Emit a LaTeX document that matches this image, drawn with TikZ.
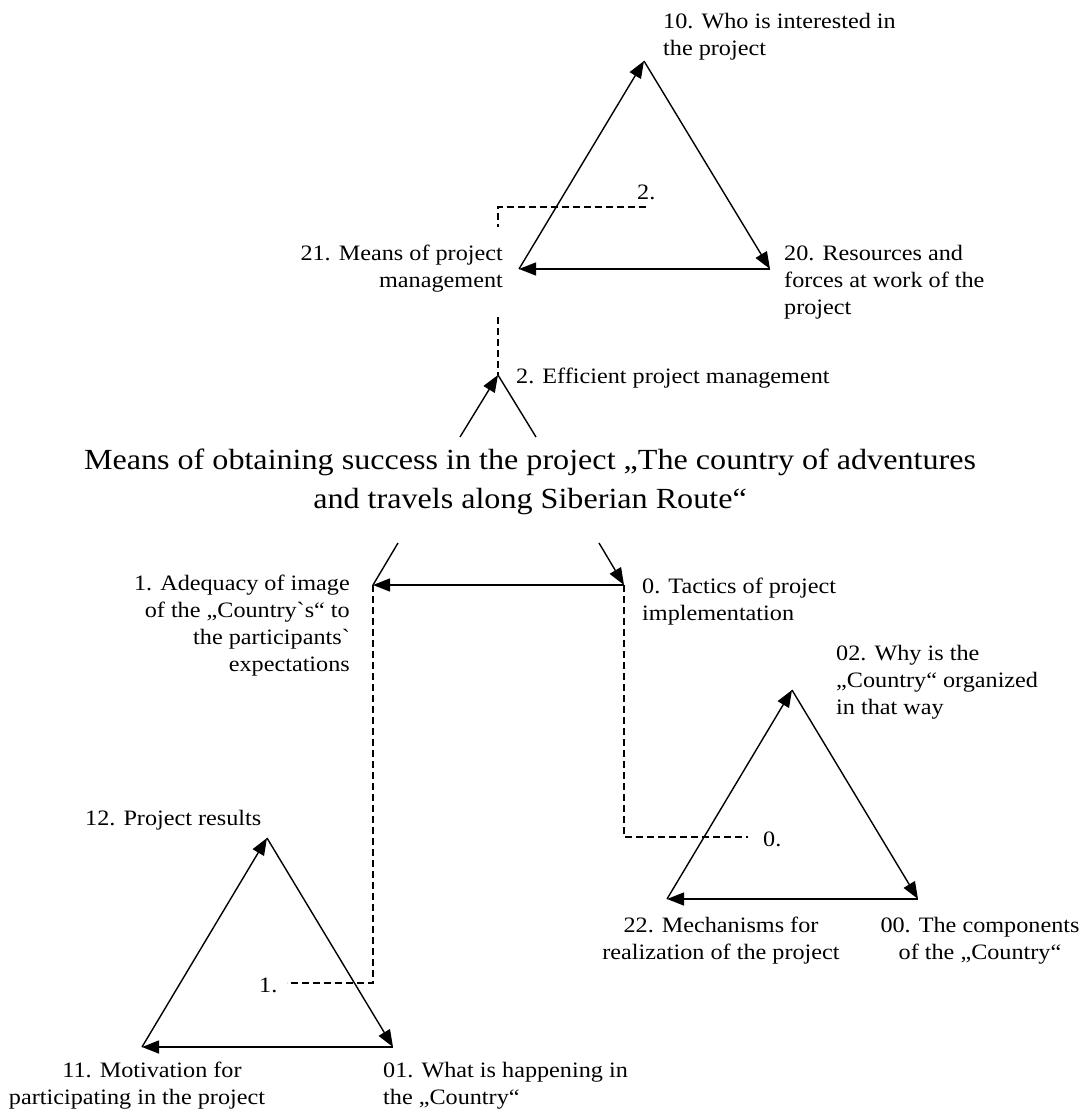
\documentclass[tikz,border=0pt]{standalone}
\usepackage{fontspec}
\setmainfont{Liberation Serif}[Ligatures=TeXOff, FakeStretch=1.1]
\usetikzlibrary{arrows.meta}
\begin{document}
\begin{tikzpicture}[x=1pt,y=-1pt,
  lbl/.style={inner sep=0pt, font=\fontsize{22}{27}\selectfont},
  ttl/.style={inner sep=0pt, align=center, font=\fontsize{29.2}{39}\selectfont},
  ln/.style={line width=1.4pt},
  arr/.style={line width=1.4pt, -{Triangle[length=17pt,width=13pt]}},
  dsh/.style={line width=1.2pt, dash pattern=on 7pt off 4pt}]
\useasboundingbox (0,0) rectangle (1085,1110);
\fill[white] (0,0) rectangle (1085,1110);

% ---------- top triangle ----------
\coordinate (A1) at (644,61);
\coordinate (B1) at (770,269);
\coordinate (C1) at (519,269);
\draw[arr] (C1) -- (A1);
\draw[arr] (A1) -- (B1);
\draw[arr] (B1) -- (C1);
\node[lbl, anchor=north west, align=left] (t10) at (663,13) {10. Who is interested in\\the project};
\node[lbl, anchor=north east, align=right] (t21) at (503,245) {21. Means of project\\management};
\node[lbl, anchor=north west, align=left] (t20) at (784,245) {20. Resources and\\forces at work of the\\project};
\node[lbl, anchor=north west] (n2) at (637,185) {2.};
\coordinate (d2a) at (646,207);
\coordinate (d2b) at (498,207);
\coordinate (d2c) at (498,227);
\draw[dsh] (d2a) -- (d2b) -- (d2c);

% ---------- centre ----------
\coordinate (P2) at (498,375);
\coordinate (L2) at (460,437);
\coordinate (R2) at (536,437);
\coordinate (D2) at (498,317);
\draw[dsh] (D2) -- (P2);
\draw[arr] (L2) -- (P2);
\draw[ln] (P2) -- (R2);
\node[lbl, anchor=north west] (eff) at (516,368) {2. Efficient project management};

\node[ttl, anchor=north] (title) at (530,449) {Means of obtaining success in the project „The country of adventures\\and travels along Siberian Route“};

\coordinate (Lt) at (398,543);
\coordinate (Rt) at (599,543);
\coordinate (P1) at (373,585);
\coordinate (P0) at (624,585);
\draw[ln] (Lt) -- (P1);
\draw[arr] (Rt) -- (P0);
\draw[arr] (P0) -- (P1);
\node[lbl, anchor=north east, align=right] (t1) at (350,575) {1. Adequacy of image\\of the „Country`s“ to\\the participants`\\expectations};
\node[lbl, anchor=north west, align=left] (t0) at (642,578) {0. Tactics of project\\implementation};

% dashed links
\coordinate (d1a) at (373,983);
\coordinate (d1b) at (287,983);
\draw[dsh] (P1) -- (d1a) -- (d1b);
\node[lbl, anchor=north west] (n1) at (259,978) {1.};
\coordinate (d0a) at (624,837);
\coordinate (d0b) at (748,837);
\draw[dsh] (P0) -- (d0a) -- (d0b);
\node[lbl, anchor=north west] (n0) at (763,832) {0.};

% ---------- lower-left triangle ----------
\coordinate (A3) at (267,838);
\coordinate (B3) at (393,1047);
\coordinate (C3) at (142,1047);
\draw[arr] (C3) -- (A3);
\draw[arr] (A3) -- (B3);
\draw[arr] (B3) -- (C3);
\node[lbl, anchor=north west] (t12) at (85,810) {12. Project results};
\node[lbl, anchor=north, align=center] (t11) at (137,1062) {\hspace*{30pt}11. Motivation for\\participating in the project};
\node[lbl, anchor=north west, align=left] (t01) at (383,1062) {01. What is happening in\\the „Country“};

% ---------- lower-right triangle ----------
\coordinate (A4) at (792,690);
\coordinate (B4) at (918,899);
\coordinate (C4) at (667,899);
\draw[arr] (C4) -- (A4);
\draw[arr] (A4) -- (B4);
\draw[arr] (B4) -- (C4);
\node[lbl, anchor=north west, align=left] (t02) at (836,645) {02. Why is the\\„Country“ organized\\in that way};
\node[lbl, anchor=north, align=center] (t22) at (721,917) {22. Mechanisms for\\realization of the project};
\node[lbl, anchor=north, align=center] (t00) at (980,917) {00. The components\\of the „Country“};
\end{tikzpicture}
\end{document}
